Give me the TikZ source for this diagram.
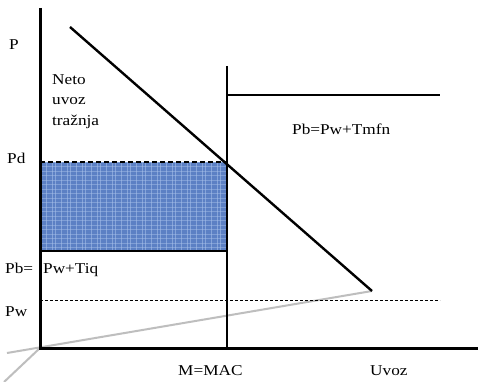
\documentclass[tikz,border=0pt]{standalone}
\usepackage{fontspec}
\setmainfont{Liberation Serif}[FakeStretch=1.15]
\begin{document}
\begin{tikzpicture}[x=1pt,y=-1pt,
  lbl/.style={inner sep=0pt,anchor=base west,font=\fontsize{15}{18}\selectfont},
  axis/.style={line width=3pt,black},
  curve/.style={line width=2.4pt,black},
  thin/.style={line width=1.3pt,black},
  grayline/.style={line width=2pt,color={rgb,255:red,190;green,190;blue,190}},
  dashline/.style={line width=1pt,black,dash pattern=on 3pt off 2pt}]
\definecolor{tex}{RGB}{92,128,196}
\definecolor{texlight}{RGB}{170,195,235}
\useasboundingbox (0,0) rectangle (492,382);
\fill[white] (0,0) rectangle (492,382);
% coordinates
\coordinate (O) at (40,348);
\coordinate (Ytop) at (40,8);
\coordinate (Xend) at (478,348);
\coordinate (D1) at (70,27);
\coordinate (D2) at (372,291);
\coordinate (Vtop) at (227,66);
\coordinate (Vbot) at (227,348);
\coordinate (T1) at (227,95);
\coordinate (T2) at (440,95);
\coordinate (R1) at (40,162);
\coordinate (R2) at (227,251);
\coordinate (R3) at (227,162);
\coordinate (R4) at (40,251);
\coordinate (W1) at (40,300);
\coordinate (W2) at (440,300);
\coordinate (G1) at (7,353);
\coordinate (G3) at (4,382);
% gray lines
\draw[grayline] (G1) -- (D2);
\draw[grayline] (O) -- (G3);
% textured rectangle
\fill[tex] (R1) rectangle (R2);
\begin{scope}
\clip (R1) rectangle (R2);
\foreach \i in {0,...,40} {
  \pgfmathsetmacro{\xx}{40+\i*5+mod(\i,3)}
  \draw[texlight,line width=0.7pt,opacity=0.55] (\xx,162) -- (\xx,251);
}
\foreach \j in {0,...,20} {
  \draw[texlight,line width=0.6pt,opacity=0.45] (40,162+\j*4.5) -- (227,162+\j*4.5);
}
\end{scope}
\draw[line width=2pt,black,dash pattern=on 5pt off 3pt] (R1) -- (R3);
\draw[line width=2pt,black] (R4) -- (R2);
% lines
\draw[dashline] (W1) -- (W2);
\draw[thin] (Vtop) -- (Vbot);
\draw[curve] (T1) -- (T2);
\draw[curve] (D1) -- (D2);
\draw[axis] (Ytop) -- (O) -- (Xend);
% labels
\node[lbl] (lP) at (9,50) {P};
\node[lbl] (lNeto) at (52,85) {Neto};
\node[lbl] (lUvoz1) at (52,105) {uvoz};
\node[lbl] (lTraz) at (52,126) {tražnja};
\node[lbl] (lPd) at (7,164) {Pd};
\node[lbl] (lPbeq) at (5,273) {Pb=};
\node[lbl] (lTiq) at (43,273) {Pw+Tiq};
\node[lbl] (lPw) at (5,316) {Pw};
\node[lbl] (lTmfn) at (292,135) {Pb=Pw+Tmfn};
\node[lbl] (lMAC) at (178,375) {M=MAC};
\node[lbl] (lUvoz) at (370,375) {Uvoz};
\end{tikzpicture}
\end{document}
